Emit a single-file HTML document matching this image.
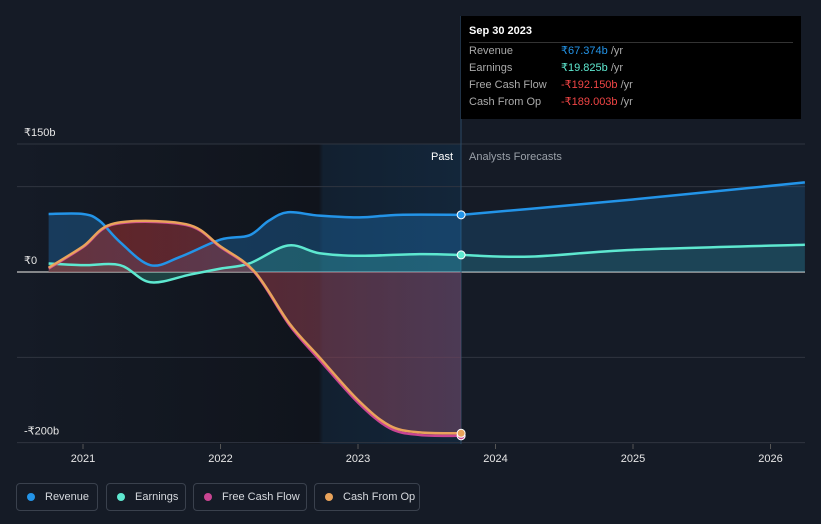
<!DOCTYPE html>
<html><head><meta charset="utf-8"><style>
body{margin:0;background:#151b26;font-family:"Liberation Sans","Noto Sans CJK SC",sans-serif;}
svg{display:block}
.legend{position:absolute;top:483px;height:28px;border:1px solid #3a414d;border-radius:4px;color:#d6d9de;font-size:11px;display:flex;align-items:center;padding:0 10px;box-sizing:border-box;white-space:nowrap}
.dot{width:8px;height:8px;border-radius:50%;margin-right:10px;flex-shrink:0}
</style></head><body>
<div style="position:relative;width:821px;height:524px;overflow:hidden">
<svg id="c" width="821" height="524"></svg>
<div class="legend" style="left:16px;width:82px"><span class="dot" style="background:#2394e8"></span>Revenue</div>
<div class="legend" style="left:106px;width:80px"><span class="dot" style="background:#5ee8d0"></span>Earnings</div>
<div class="legend" style="left:193px;width:114px"><span class="dot" style="background:#c94592"></span>Free Cash Flow</div>
<div class="legend" style="left:314px;width:106px"><span class="dot" style="background:#e9a35b"></span>Cash From Op</div>
<div style="position:absolute;left:461px;top:16px;width:340px;height:103px;background:#000;color:#fff;font-size:11px">
<div style="position:absolute;left:8px;top:9px;font-weight:bold">Sep 30 2023</div>
<div style="position:absolute;left:8px;top:26px;width:324px;border-top:1px solid #333"></div>
<div style="position:absolute;left:8px;top:27px;color:#aaa;line-height:17px">Revenue<br>Earnings<br>Free Cash Flow<br>Cash From Op</div>
<div style="position:absolute;left:100px;top:27px;line-height:17px;color:#aaa"><span style="color:#2394e8">₹67.374b</span> /yr<br><span style="color:#5ee8d0">₹19.825b</span> /yr<br><span style="color:#f04545">-₹192.150b</span> /yr<br><span style="color:#f04545">-₹189.003b</span> /yr</div>
</div>
</div>
<script>
const years=[2021,2022,2023,2024,2025,2026];
const yTicks=[150,0,-200];
const revT=[2020.75,2021,2021.12,2021.27,2021.49,2021.71,2022,2022.21,2022.35,2022.49,2022.72,2023.01,2023.3,2023.75];
const revV=[68,68,60,35,8,18,38,43,60,70,66,64,67,67];
const revFT=[2023.75,2024.25,2025,2026.25];
const revFV=[67,74,85,105];
const earnT=[2020.75,2021,2021.27,2021.49,2021.78,2022,2022.21,2022.49,2022.72,2023.01,2023.45,2023.75];
const earnV=[10,8,8,-12,-3,4,10,31,22,19,21,20];
const earnFT=[2023.75,2024.25,2025,2026.25];
const earnFV=[20,18,26,32];
const cfoT=[2020.75,2021,2021.23,2021.75,2022,2022.25,2022.5,2022.72,2023,2023.23,2023.45,2023.75];
const cfoV=[5,30,57,56,30,0,-60,-100,-150,-180,-188,-189];
const fcfV=[4,29,56,55,29,-1,-62,-103,-153,-183,-191,-192];
const X=t=>83+(t-2021)*137.5, Y=v=>272-v*0.8533;
const s=document.getElementById('c');const NS='http://www.w3.org/2000/svg';
function el(tag,a,name){const e=document.createElementNS(NS,tag);for(const k in a)e.setAttribute(k,a[k]);


s.appendChild(e);return e;}
function path(ts,vs){const p=ts.map((t,i)=>[X(t),Y(vs[i])]);let d='M'+p[0];for(let i=0;i<p.length-1;i++){const p0=p[i-1]||p[i],p1=p[i],p2=p[i+1],p3=p[i+2]||p2;
d+=' C'+(p1[0]+(p2[0]-p0[0])/6)+','+(p1[1]+(p2[1]-p0[1])/6)+' '+(p2[0]-(p3[0]-p1[0])/6)+','+(p2[1]-(p3[1]-p1[1])/6)+' '+p2;}return d;}
const defs=el('defs',{},'defs');
defs.innerHTML='<linearGradient id="pg" x1="0" x2="1"><stop offset="0" stop-color="#151b26"/><stop offset="0.68" stop-color="#10141c"/><stop offset="0.69" stop-color="#122030"/><stop offset="1" stop-color="#13263a"/></linearGradient><linearGradient id="rg" x1="0" x2="1"><stop offset="0" stop-color="#a52a25"/><stop offset="1" stop-color="#7a4a6a"/></linearGradient>';
el('rect',{x:17,y:144,width:444,height:300,fill:'url(#pg)'},'past-region');
[150,100,0,-100,-200].forEach(v=>el('line',{x1:17,x2:805,y1:Y(v),y2:Y(v),stroke:v==0?'#aaa':'#2f3540','stroke-width':v==0?1.5:1},'gridline'));
yTicks.forEach(v=>{const t=el('text',{x:24,y:Y(v)-8,fill:'#e6e6e6','font-size':11},'y-tick-label');t.textContent=(v<0?'-':'')+'₹'+Math.abs(v)+(v?'b':'');});
years.forEach(y=>{el('line',{x1:X(y),x2:X(y),y1:444,y2:449,stroke:'#555'},'x-tick');const t=el('text',{x:X(y),y:462,fill:'#e6e6e6','font-size':11,'text-anchor':'middle'},'x-tick-label');t.textContent=y;});
el('line',{x1:461,x2:461,y1:16,y2:444,stroke:'#2a4a66'},'past-divider');
let t=el('text',{x:453,y:160,fill:'#fff','font-size':11,'text-anchor':'end'},'past-label');t.textContent='Past';
t=el('text',{x:469,y:160,fill:'#9aa0a8','font-size':11},'forecast-label');t.textContent='Analysts Forecasts';
const z=Y(0);
function area(ts,vs,fill,op,name){const d=path(ts,vs);el('path',{d:d+' L'+X(ts[ts.length-1])+','+z+' L'+X(ts[0])+','+z+'Z',fill,opacity:op},name);}
area(revT,revV,'#1f6fb0',.4,'revenue-area');area(revFT,revFV,'#1f6fb0',.25,'revenue-forecast-area');
area(earnT,earnV,'#3fbfa8',.25,'earnings-area');area(earnFT,earnFV,'#3fbfa8',.15,'earnings-forecast-area');
area(cfoT,cfoV,'url(#rg)',.55,'cash-area');
function line(ts,vs,c,name){el('path',{d:path(ts,vs),fill:'none',stroke:c,'stroke-width':2.5},name);}
line(revT,revV,'#2394e8','revenue-line');line(revFT,revFV,'#2394e8','revenue-forecast-line');
line(earnT,earnV,'#5ee8d0','earnings-line');line(earnFT,earnFV,'#5ee8d0','earnings-forecast-line');
line(cfoT,fcfV,'#c94592','fcf-line');line(cfoT,cfoV,'#e9a35b','cfo-line');
[[revV,'#2394e8','revenue-point'],[earnV,'#5ee8d0','earnings-point'],[fcfV,'#c94592','fcf-point'],[cfoV,'#e9a35b','cfo-point']].forEach(([a,c,n])=>el('circle',{cx:X(2023.75),cy:Y(a[a.length-1]),r:4,fill:c,stroke:'#fff','stroke-width':1},n));
</script>
</body></html>
